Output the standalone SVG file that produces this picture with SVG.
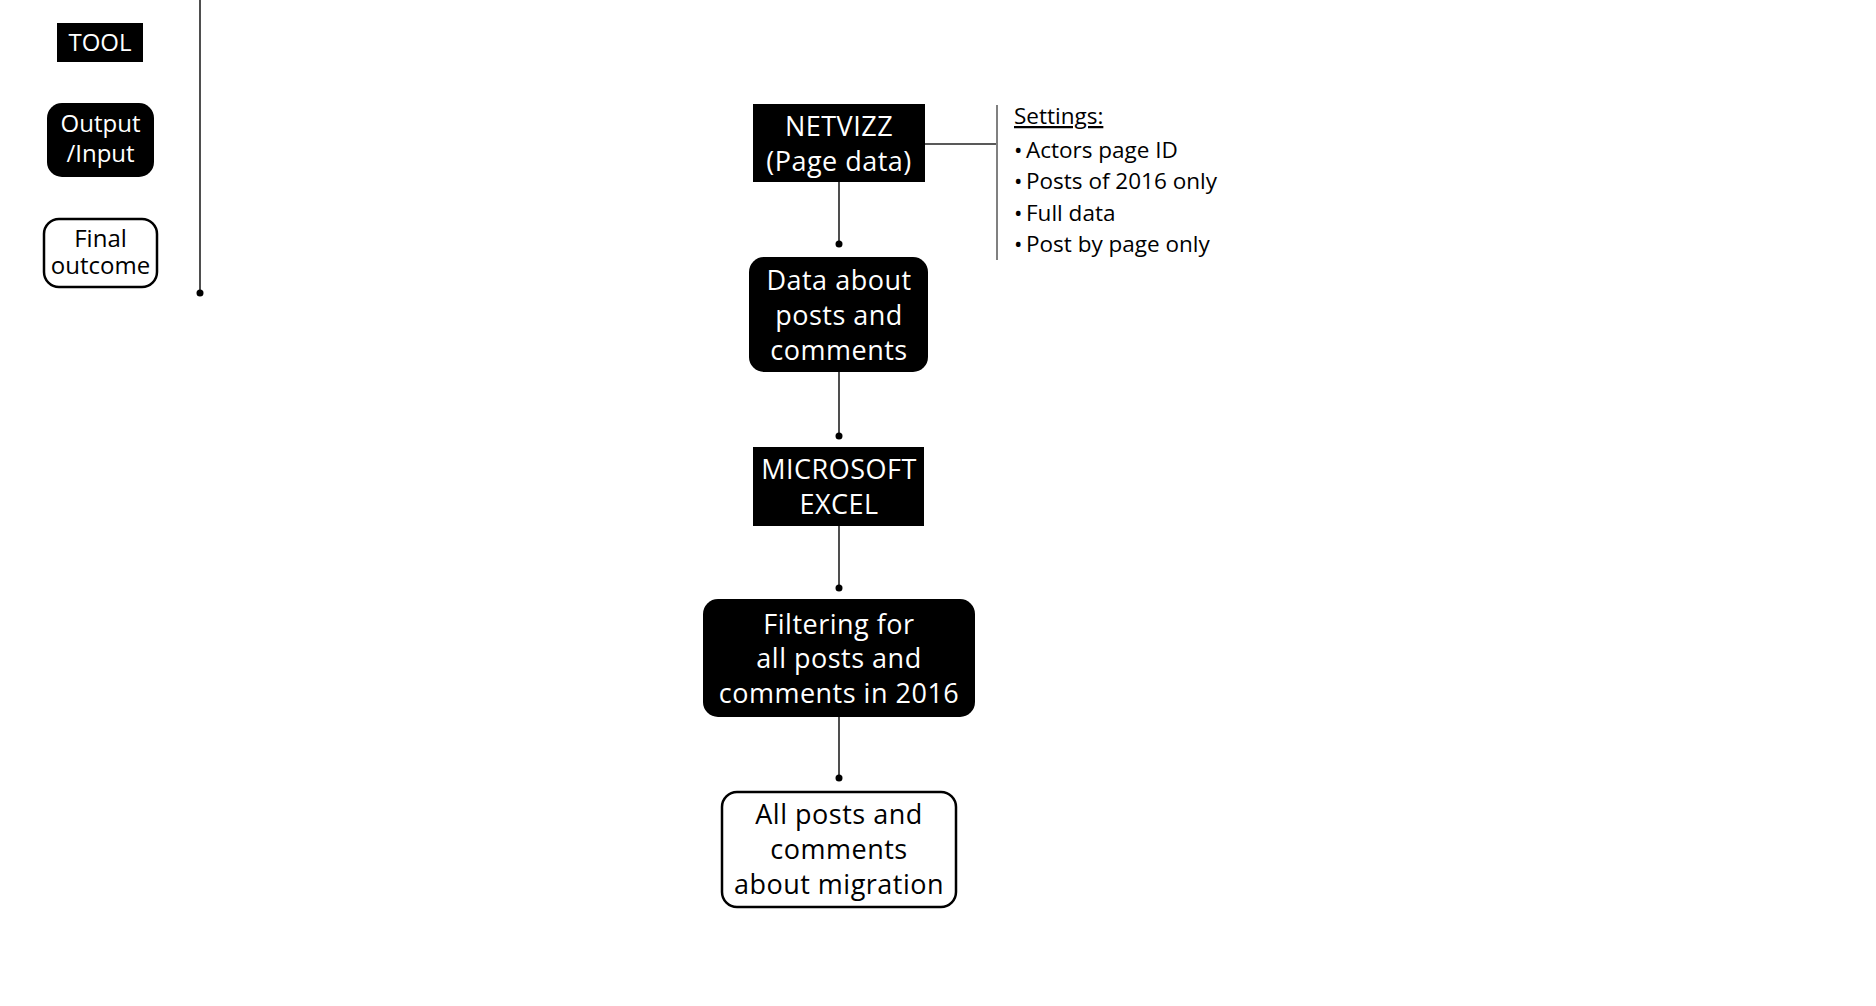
<svg xmlns="http://www.w3.org/2000/svg" width="1876" height="1006" viewBox="0 0 1876 1006">
<defs>
<style>
.tool{fill:#000}
.io{fill:#000}
.fin{fill:#fff;stroke:#000;stroke-width:2.5}
.wt{fill:#fff;font-family:"Open Sans","Liberation Sans",sans-serif;font-size:27px;letter-spacing:0.5px;text-anchor:middle}
.bt{fill:#000;font-family:"Open Sans","Liberation Sans",sans-serif;font-size:27px;letter-spacing:0.5px;text-anchor:middle}
.lw{fill:#fff;font-family:"Open Sans","Liberation Sans",sans-serif;font-size:24px;text-anchor:middle}
.lb{fill:#000;font-family:"Open Sans","Liberation Sans",sans-serif;font-size:24px;text-anchor:middle}
.st{fill:#000;font-family:"Open Sans","Liberation Sans",sans-serif;font-size:22.5px}
.ln{stroke:#222;stroke-width:1.6;fill:none}
.dot{fill:#000}
</style>
</defs>
<rect width="1876" height="1006" fill="#fff"/>
<g id="legend">
<g id="legend-tool"><rect class="tool" x="57" y="23" width="86" height="39"/><text class="lw" x="100" y="51" font-size="22">TOOL</text></g>
<g id="legend-io"><rect class="io" x="47" y="103" width="107" height="74" rx="15"/><text class="lw" x="100.5" y="132">Output</text><text class="lw" x="100.5" y="162">/Input</text></g>
<g id="legend-final"><rect class="fin" x="44" y="219" width="113" height="68" rx="15"/><text class="lb" x="100.5" y="247">Final</text><text class="lb" x="100.5" y="274">outcome</text></g>
<line class="ln" x1="200" y1="0" x2="200" y2="293"/><circle class="dot" cx="200" cy="293" r="3.5"/>
</g>
<g id="connectors">
<line class="ln" x1="839" y1="182" x2="839" y2="244"/><circle class="dot" cx="839" cy="244" r="3.5"/>
<line class="ln" x1="839" y1="372" x2="839" y2="436"/><circle class="dot" cx="839" cy="436" r="3.5"/>
<line class="ln" x1="839" y1="526" x2="839" y2="588"/><circle class="dot" cx="839" cy="588" r="3.5"/>
<line class="ln" x1="839" y1="717" x2="839" y2="778"/><circle class="dot" cx="839" cy="778" r="3.5"/>
<line class="ln" x1="925" y1="144" x2="997" y2="144"/>
<line x1="997" y1="105" x2="997" y2="260" stroke="#808080" stroke-width="2"/>
</g>
<g id="netvizz"><rect class="tool" x="753" y="104" width="172" height="78"/><text class="wt" x="839" y="136">NETVIZZ</text><text class="wt" x="839" y="171">(Page data)</text></g>
<g id="data"><rect class="io" x="749" y="257" width="179" height="115" rx="15"/><text class="wt" x="839" y="290">Data about</text><text class="wt" x="839" y="325">posts and</text><text class="wt" x="839" y="360">comments</text></g>
<g id="excel"><rect class="tool" x="753" y="447" width="171" height="79"/><text class="wt" x="839" y="479">MICROSOFT</text><text class="wt" x="839" y="514">EXCEL</text></g>
<g id="filter"><rect class="io" x="703" y="599" width="272" height="118" rx="15"/><text class="wt" x="839" y="634">Filtering for</text><text class="wt" x="839" y="668">all posts and</text><text class="wt" x="839" y="703">comments in 2016</text></g>
<g id="final"><rect class="fin" x="722" y="792" width="234" height="115" rx="15"/><text class="bt" x="839" y="824">All posts and</text><text class="bt" x="839" y="859">comments</text><text class="bt" x="839" y="894">about migration</text></g>
<g id="settings">
<text class="st" x="1014" y="124" text-decoration="underline">Settings:</text>
<text class="st" y="158"><tspan x="1014">•</tspan><tspan x="1026">Actors page ID</tspan></text>
<text class="st" y="189"><tspan x="1014">•</tspan><tspan x="1026">Posts of 2016 only</tspan></text>
<text class="st" y="221"><tspan x="1014">•</tspan><tspan x="1026">Full data</tspan></text>
<text class="st" y="252"><tspan x="1014">•</tspan><tspan x="1026">Post by page only</tspan></text>
</g>
</svg>
